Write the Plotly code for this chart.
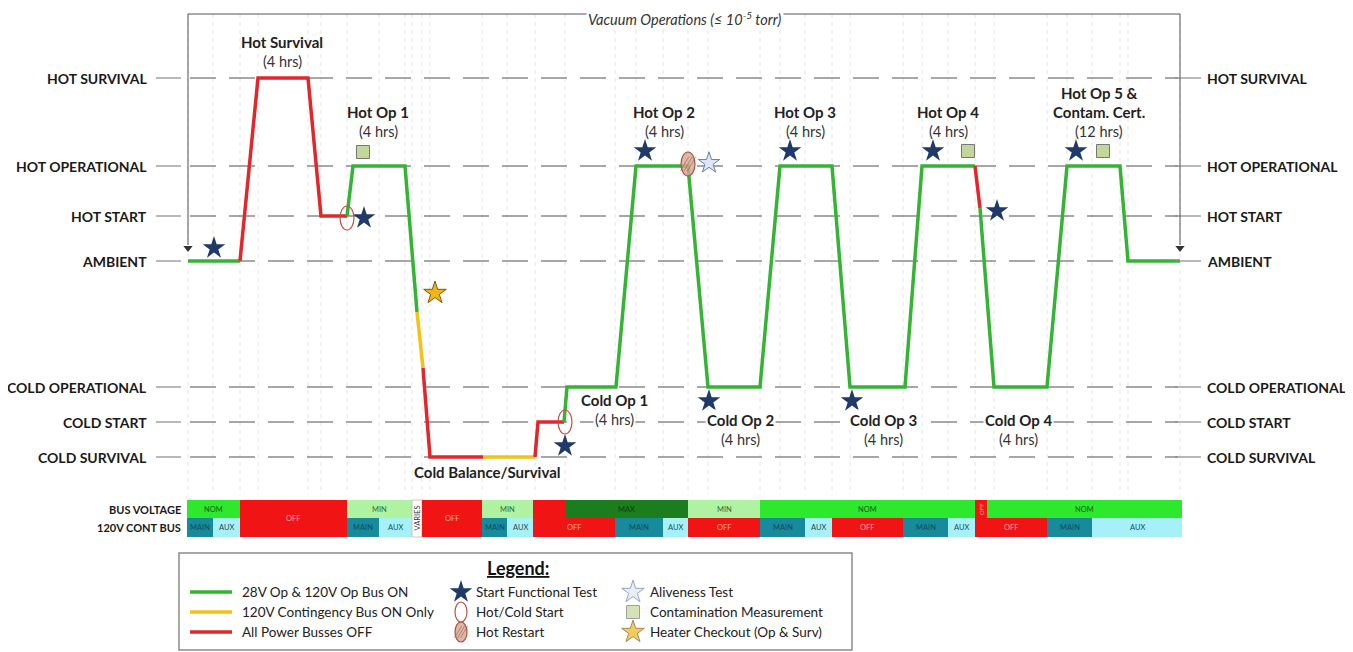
import plotly.graph_objects as go

# ---------------- data ----------------
LEVELS = ["HOT SURVIVAL", "HOT OPERATIONAL", "HOT START", "AMBIENT",
          "COLD OPERATIONAL", "COLD START", "COLD SURVIVAL"]
LEVEL_POS = [78, 166, 216, 261, 387, 422, 457]   # vertical position of each level
LV = dict(zip(LEVELS, LEVEL_POS))

# thermal profile, split by power state (time units, level / intermediate value)
SEG_STATE = ["on", "off", "on", "cont", "off", "cont", "off", "on", "off", "on"]
SEG_T = [
    [188, 240],
    [240, 258, 308, 321, 347],
    [347, 353, 405, 417],
    [417, 423],
    [423, 430, 483],
    [483, 535],
    [535, 538, 564],
    [564, 567, 616, 636, 688, 708, 760, 780, 832, 850, 905, 922, 975],
    [975, 980],
    [980, 994, 1047, 1067, 1120, 1128, 1180],
]
SEG_V = [
    ["AMBIENT", "AMBIENT"],
    ["AMBIENT", "HOT SURVIVAL", "HOT SURVIVAL", "HOT START", "HOT START"],
    ["HOT START", "HOT OPERATIONAL", "HOT OPERATIONAL", 312],
    [312, 368],
    [368, "COLD SURVIVAL", "COLD SURVIVAL"],
    ["COLD SURVIVAL", "COLD SURVIVAL"],
    ["COLD SURVIVAL", "COLD START", "COLD START"],
    ["COLD START", "COLD OPERATIONAL", "COLD OPERATIONAL", "HOT OPERATIONAL", "HOT OPERATIONAL",
     "COLD OPERATIONAL", "COLD OPERATIONAL", "HOT OPERATIONAL", "HOT OPERATIONAL",
     "COLD OPERATIONAL", "COLD OPERATIONAL", "HOT OPERATIONAL", "HOT OPERATIONAL"],
    ["HOT OPERATIONAL", 208],
    [208, "COLD OPERATIONAL", "COLD OPERATIONAL", "HOT OPERATIONAL", "HOT OPERATIONAL",
     "AMBIENT", "AMBIENT"],
]
STATE_COLOR = {"on": "#33b533", "cont": "#f2c21b", "off": "#e3262a"}
STATE_NAME = {"on": "28V Op & 120V Op Bus ON",
              "cont": "120V Contingency Bus ON Only",
              "off": "All Power Busses OFF"}

# phase labels (title lines, then duration)
PHASE_T = [282, 378, 664, 805, 948, 1099, 614, 740, 883, 1018, 487]
PHASE_Y = [42, 112, 112, 112, 112, 93, 400, 420, 420, 420, 472]
PHASE_TITLE = [["Hot Survival"], ["Hot Op 1"], ["Hot Op 2"], ["Hot Op 3"], ["Hot Op 4"],
               ["Hot Op 5 &", "Contam. Cert."], ["Cold Op 1"], ["Cold Op 2"], ["Cold Op 3"],
               ["Cold Op 4"], ["Cold Balance/Survival"]]
PHASE_DUR = ["(4 hrs)", "(4 hrs)", "(4 hrs)", "(4 hrs)", "(4 hrs)", "(12 hrs)",
             "(4 hrs)", "(4 hrs)", "(4 hrs)", "(4 hrs)", ""]

# event markers
FUNC_T = [214, 364, 565, 645, 709, 790, 852, 933, 997, 1076]
FUNC_Y = [248, 218, 446, 151, 401, 151, 401, 151, 211, 151]
START_T = [347, 565]
START_Y = [218, 422]
RESTART_T = [688]
RESTART_Y = [164]
ALIVE_T = [709]
ALIVE_Y = [163]
CONTAM_T = [363, 968, 1103]
CONTAM_Y = [152, 151, 151]
HEATER_T = [435]
HEATER_Y = [293]

# vacuum period (start / end of the bracket)
VAC_T = [188, 1180]

# bus status bars: (start, end, state, row)
BUS_CELLS = [
    (187, 240, "NOM", "top"), (187, 213, "MAIN", "bot"), (213, 240, "AUX", "bot"),
    (240, 347, "OFF", "both"),
    (347, 412, "MIN", "top"), (347, 379, "MAIN", "bot"), (379, 412, "AUX", "bot"),
    (412, 422, "VARIES", "both"),
    (422, 482, "OFF", "both"),
    (482, 533, "MIN", "top"), (482, 507, "MAIN", "bot"), (507, 533, "AUX", "bot"),
    (533, 565, "", "top"), (533, 615, "OFF", "bot"),
    (565, 688, "MAX", "top"), (615, 663, "MAIN", "bot"), (663, 688, "AUX", "bot"),
    (688, 760, "MIN", "top"), (688, 760, "OFF", "bot"),
    (760, 975, "NOM", "top"), (760, 805, "MAIN", "bot"), (805, 832, "AUX", "bot"),
    (832, 903, "OFF", "bot"), (903, 948, "MAIN", "bot"), (948, 975, "AUX", "bot"),
    (975, 987, "OFF", "topv"), (975, 1047, "OFF", "bot"),
    (987, 1182, "NOM", "top"), (1047, 1092, "MAIN", "bot"), (1092, 1182, "AUX", "bot"),
]
CELL_FILL = {"NOM": "#2ee82e", "MIN": "#aef2a2", "MAX": "#1c7d1c", "OFF": "#f01414",
             "": "#f01414", "MAIN": "#178a9c", "AUX": "#a6f1f8", "VARIES": "#ffffff"}
CELL_TEXT = {"NOM": "#125c12", "MIN": "#2f6b2f", "MAX": "#0b3f0b", "OFF": "#f7a8a8",
             "": "#f7a8a8", "MAIN": "#0c4f5a", "AUX": "#1d4a55", "VARIES": "#333333"}
BUS_ROWS = ["BUS VOLTAGE", "120V CONT BUS"]

GRID_T = [188, 213, 240, 258, 308, 321, 347, 379, 405, 412, 422, 430, 482, 507, 535,
          565, 615, 636, 663, 688, 708, 760, 780, 805, 832, 850, 903, 922, 948, 975,
          994, 1047, 1067, 1092, 1120, 1128, 1180]

# ---------------- figure ----------------
FONT = "Lato"
PAGE_OFF = 8   # default body margin of the page
fig = go.Figure()
shapes = []
ann = []

def yv(v):
    return LV[v] if isinstance(v, str) else v

# vertical light grid
for t in GRID_T:
    shapes.append(dict(type="line", x0=t, x1=t, y0=14, y1=495, layer="below",
                       line=dict(color="#e4e4e4", width=1, dash="4px,4px")))

# level reference lines and labels
for name, pos in zip(LEVELS, LEVEL_POS):
    shapes.append(dict(type="line", x0=190, x1=1178, y0=pos, y1=pos, layer="below",
                       line=dict(color="#8a8a8a", width=1.3, dash="26px,13px")))
    shapes.append(dict(type="line", x0=156, x1=181, y0=pos, y1=pos,
                       line=dict(color="#8a8a8a", width=1.2)))
    shapes.append(dict(type="line", x0=1175, x1=1201, y0=pos, y1=pos,
                       line=dict(color="#8a8a8a", width=1.2)))
    ann.append(dict(x=149, y=pos, text=name, xanchor="right", yanchor="middle",
                    showarrow=False, font=dict(family=FONT, size=14, color="#1a1a1a",
                                               weight="bold")))
    ann.append(dict(x=1205, y=pos, text=name, xanchor="left", yanchor="middle",
                    showarrow=False, font=dict(family=FONT, size=14, color="#1a1a1a",
                                               weight="bold")))

# vacuum bracket
VAC_TOP = 14
VAC_TIP = LV["AMBIENT"] - 13
shapes.append(dict(type="line", x0=VAC_T[0], x1=VAC_T[1], y0=VAC_TOP, y1=VAC_TOP,
                   line=dict(color="#555555", width=1)))
for t in VAC_T:
    shapes.append(dict(type="line", x0=t, x1=t, y0=VAC_TOP, y1=VAC_TIP - 3,
                       line=dict(color="#555555", width=1)))
fig.add_trace(go.Scatter(x=VAC_T, y=[VAC_TIP, VAC_TIP], mode="markers", hoverinfo="skip",
                         marker=dict(symbol="triangle-down", size=8, color="#333333")))
ann.append(dict(x=685, y=18, text="Vacuum Operations (≤ 10<sup>-5</sup> torr)",
                showarrow=False, bgcolor="white", xanchor="center", yanchor="middle",
                font=dict(family=FONT, size=14.5, color="#333333", style="italic")))

# profile lines
for st, ts, vs in zip(SEG_STATE, SEG_T, SEG_V):
    fig.add_trace(go.Scatter(x=ts, y=[yv(v) for v in vs], mode="lines",
                             line=dict(color=STATE_COLOR[st], width=3.5),
                             name=STATE_NAME[st], showlegend=False, hoverinfo="skip"))

# ellipses
def restart_shape(t, y, rx, ry):
    out = [dict(type="circle", x0=t - rx, x1=t + rx, y0=y - ry, y1=y + ry,
                fillcolor="rgba(214,165,145,0.8)", line=dict(color="#b05040", width=1.2))]
    for k in (-0.5, 0.0, 0.5):
        out.append(dict(type="line", x0=t - rx * 0.6 + k * rx, x1=t + rx * 0.6 + k * rx,
                        y0=y + ry * 0.6, y1=y - ry * 0.6,
                        line=dict(color="rgba(150,90,70,0.7)", width=0.8)))
    return out

for t, y in zip(START_T, START_Y):
    shapes.append(dict(type="circle", x0=t - 7, x1=t + 7, y0=y - 12, y1=y + 12,
                       line=dict(color="#c0504d", width=1.2)))
for t, y in zip(RESTART_T, RESTART_Y):
    shapes.extend(restart_shape(t, y, 7, 12))

# markers
fig.add_trace(go.Scatter(x=FUNC_T, y=FUNC_Y, mode="markers", hoverinfo="skip",
                         marker=dict(symbol="star", size=17, color="#1f3a68",
                                     line=dict(width=0))))
fig.add_trace(go.Scatter(x=ALIVE_T, y=ALIVE_Y, mode="markers", hoverinfo="skip",
                         marker=dict(symbol="star", size=16, color="#dfe6f4",
                                     line=dict(width=1, color="#6b7fa8"))))
fig.add_trace(go.Scatter(x=CONTAM_T, y=CONTAM_Y, mode="markers", hoverinfo="skip",
                         marker=dict(symbol="square", size=13, color="#c4d79b",
                                     line=dict(width=1, color="#777777"))))
fig.add_trace(go.Scatter(x=HEATER_T, y=HEATER_Y, mode="markers", hoverinfo="skip",
                         marker=dict(symbol="star", size=17, color="#f1b616",
                                     line=dict(width=1, color="#7a5a10"))))

# phase labels
LINE_H = 19
for t, y, titles, dur in zip(PHASE_T, PHASE_Y, PHASE_TITLE, PHASE_DUR):
    cold = titles[0].startswith("Cold Op")
    bg = "white" if cold else None
    for i, title in enumerate(titles):
        ann.append(dict(x=t, y=y + LINE_H * i, text=title, showarrow=False,
                        xanchor="center", yanchor="middle", bgcolor=bg, borderpad=1,
                        font=dict(family=FONT, size=15, color="#222222", weight="bold")))
    if dur:
        ann.append(dict(x=t, y=y + LINE_H * len(titles), text=dur, showarrow=False,
                        xanchor="center", yanchor="middle", bgcolor=bg, borderpad=1,
                        font=dict(family=FONT, size=14.5, color="#333333")))

# bus bars
ROW_Y = {"top": (500, 518), "bot": (518, 537), "both": (500, 537), "topv": (500, 518)}
for x0, x1, state, row in BUS_CELLS:
    y0, y1 = ROW_Y[row]
    shapes.append(dict(type="rect", x0=x0, x1=x1, y0=y0, y1=y1,
                       fillcolor=CELL_FILL[state],
                       line=dict(width=0.8 if state == "VARIES" else 0,
                                 color="#bbbbbb")))
    if state:
        vertical = state == "VARIES" or row == "topv"
        ann.append(dict(x=(x0 + x1) / 2, y=(y0 + y1) / 2, text=state, showarrow=False,
                        textangle=-90 if vertical else 0,
                        font=dict(family=FONT, size=6 if row == "topv" else 7.5,
                                  color=CELL_TEXT[state])))
for name, row in zip(BUS_ROWS, ("top", "bot")):
    y0, y1 = ROW_Y[row]
    ann.append(dict(x=183, y=(y0 + y1) / 2, text=name, xanchor="right", showarrow=False,
                    font=dict(family=FONT, size=11, color="#1a1a1a", weight="bold")))

# legend box
shapes.append(dict(type="rect", x0=179, x1=852, y0=553, y1=650, layer="below",
                   line=dict(color="#8c8c8c", width=1.5), fillcolor="white"))
ann.append(dict(x=518, y=568, text="<u>Legend:</u>", showarrow=False,
                font=dict(family=FONT, size=18, color="#111111", weight="bold")))
LEG_Y = [592, 612, 632]
for st, y in zip(["on", "cont", "off"], LEG_Y):
    shapes.append(dict(type="line", x0=190, x1=232, y0=y, y1=y,
                       line=dict(color=STATE_COLOR[st], width=3.5)))
    ann.append(dict(x=240, y=y, text=STATE_NAME[st], xanchor="left", showarrow=False,
                    font=dict(family=FONT, size=13.5, color="#222222")))
fig.add_trace(go.Scatter(x=[461], y=[LEG_Y[0]], mode="markers", hoverinfo="skip",
                         marker=dict(symbol="star", size=17, color="#1f3a68")))
shapes.append(dict(type="circle", x0=455, x1=467, y0=LEG_Y[1] - 10, y1=LEG_Y[1] + 10,
                   line=dict(color="#c0504d", width=1.2)))
shapes.extend(restart_shape(461, LEG_Y[2], 6, 10))
fig.add_trace(go.Scatter(x=[633, 633, 633], y=LEG_Y, mode="markers", hoverinfo="skip",
                         marker=dict(symbol=["star", "square", "star"], size=[17, 13, 17],
                                     color=["#dfe6f4", "#c4d79b", "#f1b616"],
                                     line=dict(width=1, color=["#6b7fa8", "#777777", "#7a5a10"]))))
for txt, y in zip(["Start Functional Test", "Hot/Cold Start", "Hot Restart"], LEG_Y):
    ann.append(dict(x=474, y=y, text=txt, xanchor="left", showarrow=False,
                    font=dict(family=FONT, size=13.5, color="#222222")))
for txt, y in zip(["Aliveness Test", "Contamination Measurement",
                   "Heater Checkout (Op & Surv)"], LEG_Y):
    ann.append(dict(x=648, y=y, text=txt, xanchor="left", showarrow=False,
                    font=dict(family=FONT, size=13.5, color="#222222")))

W, H = 1353, 652
fig.update_layout(
    width=W - PAGE_OFF, height=H - PAGE_OFF, margin=dict(l=0, r=0, t=0, b=0),
    paper_bgcolor="white", plot_bgcolor="white", showlegend=False,
    xaxis=dict(range=[PAGE_OFF, W], visible=False, fixedrange=True),
    yaxis=dict(range=[H, PAGE_OFF], visible=False, fixedrange=True),
    shapes=shapes, annotations=ann,
)
fig.write_html("out.html")
